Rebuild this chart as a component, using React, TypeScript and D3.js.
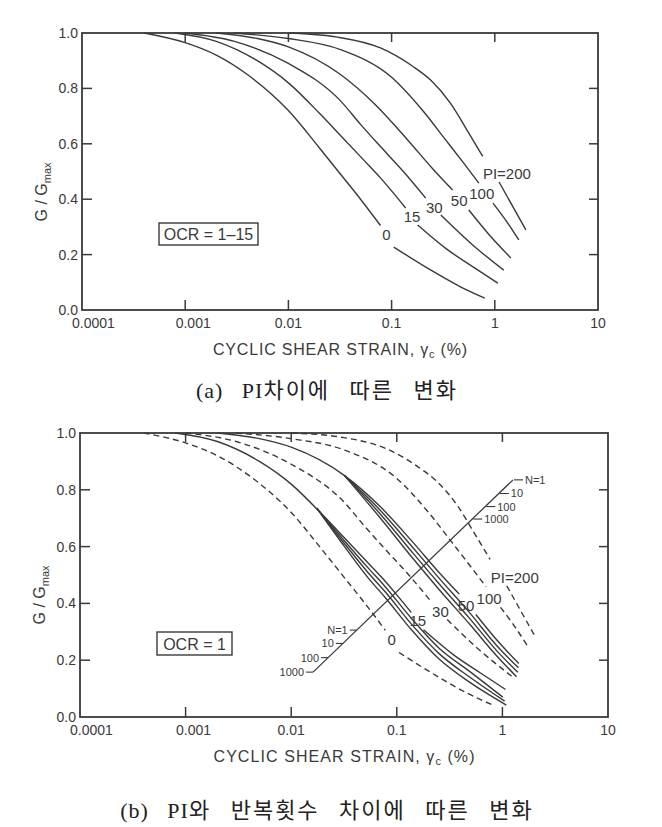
import React from "react";
import * as d3 from "d3";

type Pt = [number, number] | null;

// ---------- axes ----------
const STRAIN_TICKS = [0.0001, 0.001, 0.01, 0.1, 1, 10];
const STRAIN_TICK_LABELS = ["0.0001", "0.001", "0.01", "0.1", "1", "10"];
const RATIO_TICKS = [0, 0.2, 0.4, 0.6, 0.8, 1.0];
const RATIO_TICK_LABELS = ["0.0", "0.2", "0.4", "0.6", "0.8", "1.0"];

// ---------- G/Gmax curves (strain %, G/Gmax); null = gap for the label ----------
const PI_0: Pt[] = [[0.0004, 1], [0.001, 0.965], [0.002, 0.92], [0.004, 0.85], [0.01, 0.72], [0.02, 0.585], [0.032, 0.49], [0.05, 0.4], [0.078, 0.305], null, [0.105, 0.227], [0.24, 0.144], [0.47, 0.083], [0.8, 0.043]];
const PI_15: Pt[] = [[0.0008, 1], [0.002, 0.97], [0.005, 0.9], [0.01, 0.82], [0.02, 0.71], [0.032, 0.63], [0.0535, 0.542], [0.078, 0.477], [0.1, 0.43], [0.137, 0.368], null, [0.179, 0.307], [0.35, 0.217], [0.62, 0.155], [1.07, 0.097]];
const PI_30: Pt[] = [[0.001, 1], [0.003, 0.97], [0.01, 0.89], [0.032, 0.755], [0.05, 0.67], [0.078, 0.59], [0.13, 0.5], [0.214, 0.404], null, [0.3, 0.343], [0.61, 0.235], [1.22, 0.144]];
const PI_50: Pt[] = [[0.002, 1], [0.005, 0.98], [0.01, 0.95], [0.032, 0.85], [0.07, 0.74], [0.143, 0.614], [0.25, 0.51], [0.39, 0.433], null, [0.56, 0.361], [0.89, 0.27], [1.43, 0.188]];
const PI_100: Pt[] = [[0.003, 1], [0.01, 0.98], [0.032, 0.94], [0.1, 0.84], [0.2, 0.72], [0.334, 0.614], [0.5, 0.53], [0.7, 0.458], null, [0.96, 0.386], [1.3, 0.32], [1.71, 0.253]];
const PI_200: Pt[] = [[0.01, 1], [0.03, 0.985], [0.078, 0.946], [0.16, 0.88], [0.239, 0.83], [0.374, 0.745], [0.547, 0.645], [0.764, 0.555], null, [1.1, 0.462], [2.0, 0.289]];

const PI_LABELS = ["0", "15", "30", "50", "100", "PI=200"];
const PI_LABEL_STRAIN = [0.0893, 0.158, 0.259, 0.452, 0.748, 1.31];
const PI_LABEL_RATIO = [0.274, 0.339, 0.37, 0.394, 0.419, 0.491];

// ---------- number-of-cycles bundles (panel b) ----------
const PI15_N10: Pt[] = [[0.0175, 0.735], [0.032, 0.62], [0.0535, 0.525], [0.078, 0.458], [0.137, 0.348], [0.25, 0.243], [0.5, 0.158], [1.01, 0.07]];
const PI15_N100: Pt[] = [[0.0175, 0.735], [0.032, 0.61], [0.0535, 0.508], [0.078, 0.44], [0.137, 0.328], [0.25, 0.224], [0.5, 0.138], [1.05, 0.056]];
const PI15_N1000: Pt[] = [[0.0175, 0.735], [0.032, 0.6], [0.0535, 0.49], [0.078, 0.42], [0.137, 0.308], [0.25, 0.205], [0.5, 0.12], [1.09, 0.042]];
const PI50_N10: Pt[] = [[0.032, 0.85], [0.07, 0.727], [0.143, 0.595], [0.25, 0.49], [0.5, 0.363], [0.89, 0.25], [1.42, 0.173]];
const PI50_N100: Pt[] = [[0.032, 0.85], [0.07, 0.714], [0.143, 0.576], [0.25, 0.47], [0.5, 0.343], [0.89, 0.232], [1.4, 0.158]];
const PI50_N1000: Pt[] = [[0.032, 0.85], [0.07, 0.7], [0.143, 0.557], [0.25, 0.45], [0.5, 0.323], [0.89, 0.214], [1.36, 0.142]];

const LEADER: [number, number][] = [[0.0161, 0.158], [1.26, 0.835]];
const N_LABELS = ["N=1", "10", "100", "1000"];
const N_LABEL_RATIO_LOW = [0.306, 0.259, 0.209, 0.158];
const N_LABEL_RATIO_HIGH = [0.835, 0.787, 0.741, 0.697];

const INK = "#3a3a3a";
const SANS = "'Liberation Sans', Arial, sans-serif";
const SERIF = "'Liberation Serif', 'Noto Sans CJK KR', serif";

type Curve = { data: Pt[]; dashed: boolean };

type PanelProps = {
  x0: number; x1: number; y0: number; y1: number;
  yLabelY: number; yLabelX: number;
  titleLength: number;
  curves: Curve[];
  ocr: string; ocrBox: [number, number, number, number];
  leader: boolean;
};

function Panel(p: PanelProps) {
  const xs = d3.scaleLog().domain([1e-4, 10]).range([p.x0, p.x1]);
  const ys = d3.scaleLinear().domain([0, 1]).range([p.y1, p.y0]);
  const line = d3
    .line<Pt>()
    .defined((d) => d !== null)
    .x((d) => xs((d as [number, number])[0]))
    .y((d) => ys((d as [number, number])[1]))
    .curve(d3.curveMonotoneX);
  const inner = RATIO_TICKS.filter((v) => v > 0 && v < 1);
  const innerX = STRAIN_TICKS.filter((v) => v > 1e-4 && v < 10);
  const labelDx = [-10, 8, 0, 0, 0, 0];

  let leaderEls: React.ReactNode = null;
  if (p.leader) {
    const ax = xs(LEADER[0][0]), ay = ys(LEADER[0][1]);
    const bx = xs(LEADER[1][0]), by = ys(LEADER[1][1]);
    const xAt = (g: number) => {
      const yy = ys(g);
      return ax + ((yy - ay) / (by - ay)) * (bx - ax);
    };
    leaderEls = (
      <g>
        <line x1={ax} y1={ay} x2={bx} y2={by} stroke={INK} strokeWidth={1.3} />
        {N_LABELS.map((t, i) => {
          const g = N_LABEL_RATIO_LOW[i];
          const xx = xAt(g);
          const yy = ys(g);
          return (
            <g key={"lo" + i}>
              <line x1={xx - 7} y1={yy} x2={xx} y2={yy} stroke={INK} strokeWidth={1.1} />
              <text x={xx - 9} y={yy + 4} textAnchor="end" fontSize={11} fill={INK} fontFamily={SANS}>{t}</text>
            </g>
          );
        })}
        {N_LABELS.map((t, i) => {
          const g = N_LABEL_RATIO_HIGH[i];
          const xx = xAt(g);
          const yy = ys(g);
          return (
            <g key={"hi" + i}>
              <line x1={xx + 1} y1={yy} x2={xx + 10} y2={yy} stroke={INK} strokeWidth={1.1} />
              <text x={xx + 12} y={yy + 4} textAnchor="start" fontSize={11} fill={INK} fontFamily={SANS}>{t}</text>
            </g>
          );
        })}
      </g>
    );
  }

  return (
    <g>
      {p.curves.map((c, i) => (
        <path key={i} d={line(c.data) || ""} fill="none" stroke={INK} strokeWidth={1.4}
          strokeDasharray={c.dashed ? "6,4" : undefined} />
      ))}
      {leaderEls}
      {PI_LABELS.map((t, i) => (
        <text key={t} x={xs(PI_LABEL_STRAIN[i])} y={ys(PI_LABEL_RATIO[i]) + 5.5} textAnchor="middle"
          fontSize={15} fill={INK} fontFamily={SANS}>{t}</text>
      ))}
      <rect x={p.x0} y={p.y0} width={p.x1 - p.x0} height={p.y1 - p.y0} fill="none" stroke={INK} strokeWidth={1.8} />
      {inner.map((v) => (
        <g key={"yt" + v}>
          <line x1={p.x0} x2={p.x0 + 10} y1={ys(v)} y2={ys(v)} stroke={INK} strokeWidth={1.5} />
          <line x1={p.x1} x2={p.x1 - 9} y1={ys(v)} y2={ys(v)} stroke={INK} strokeWidth={1.5} />
        </g>
      ))}
      {innerX.map((v) => (
        <g key={"xt" + v}>
          <line x1={xs(v)} x2={xs(v)} y1={p.y1} y2={p.y1 - 10} stroke={INK} strokeWidth={1.5} />
          <line x1={xs(v)} x2={xs(v)} y1={p.y0} y2={p.y0 + 9} stroke={INK} strokeWidth={1.5} />
        </g>
      ))}
      {RATIO_TICKS.map((v, i) => (
        <text key={"yl" + v} x={p.x0 - 4} y={ys(v) + 5} textAnchor="end" fontSize={14} fill={INK} fontFamily={SANS}>
          {RATIO_TICK_LABELS[i]}
        </text>
      ))}
      {STRAIN_TICKS.map((v, i) => (
        <text key={"xl" + v} x={xs(v) + labelDx[i]} y={p.y1 + 18} textAnchor={i === 0 ? "start" : "middle"}
          fontSize={14} fill={INK} fontFamily={SANS}>
          {STRAIN_TICK_LABELS[i]}
        </text>
      ))}
      <text x={(p.x0 + p.x1) / 2} y={p.y1 + 45} textAnchor="middle" fontSize={16} fill={INK} fontFamily={SANS}
        textLength={p.titleLength} lengthAdjust="spacing">
        CYCLIC SHEAR STRAIN, γ<tspan fontSize={11} dy={3}>c</tspan><tspan dy={-3}> (%)</tspan>
      </text>
      <text transform={`translate(${p.yLabelX},${p.yLabelY}) rotate(-90)`} textAnchor="middle" fontSize={16}
        fill={INK} fontFamily={SANS}>
        G / G<tspan fontSize={11} dy={4}>max</tspan>
      </text>
      <rect x={p.ocrBox[0]} y={p.ocrBox[1]} width={p.ocrBox[2]} height={p.ocrBox[3]} fill="none" stroke={INK} strokeWidth={1.4} />
      <text x={p.ocrBox[0] + p.ocrBox[2] / 2} y={p.ocrBox[1] + p.ocrBox[3] / 2 + 6} textAnchor="middle" fontSize={16}
        fill={INK} fontFamily={SANS}>{p.ocr}</text>
    </g>
  );
}

function Caption({ y, latin, korean }: { y: number; latin: string; korean: string }) {
  return (
    <text x={327} y={y} textAnchor="middle" fontSize={22} fill="#222" fontFamily={SERIF} wordSpacing={12}>
      <tspan letterSpacing={1}>{latin}</tspan>
      <tspan letterSpacing={2}>{korean}</tspan>
    </text>
  );
}

export default function App() {
  const curvesA: Curve[] = [PI_0, PI_15, PI_30, PI_50, PI_100, PI_200].map((d) => ({ data: d, dashed: false }));
  const curvesB: Curve[] = [
    { data: PI_0, dashed: true },
    { data: PI_30, dashed: true },
    { data: PI_100, dashed: true },
    { data: PI_200, dashed: true },
    { data: PI_15, dashed: false },
    { data: PI15_N10, dashed: false },
    { data: PI15_N100, dashed: false },
    { data: PI15_N1000, dashed: false },
    { data: PI_50, dashed: false },
    { data: PI50_N10, dashed: false },
    { data: PI50_N100, dashed: false },
    { data: PI50_N1000, dashed: false },
  ];
  return (
    <svg width={662} height={827} style={{ position: "absolute", left: 0, top: 0, background: "#fff" }}>
      <Panel x0={82} x1={598} y0={33} y1={310} yLabelX={47} yLabelY={192} titleLength={254}
        curves={curvesA} ocr="OCR = 1–15" ocrBox={[159, 223, 99, 22]} leader={false} />
      <Caption y={398} latin="(a) PI" korean="차이에 따른 변화" />
      <Panel x0={80} x1={608} y0={433} y1={717} yLabelX={45} yLabelY={595} titleLength={261}
        curves={curvesB} ocr="OCR = 1" ocrBox={[157, 632, 75, 23]} leader={true} />
      <Caption y={818} latin="(b) PI" korean="와 반복횟수 차이에 따른 변화" />
    </svg>
  );
}
